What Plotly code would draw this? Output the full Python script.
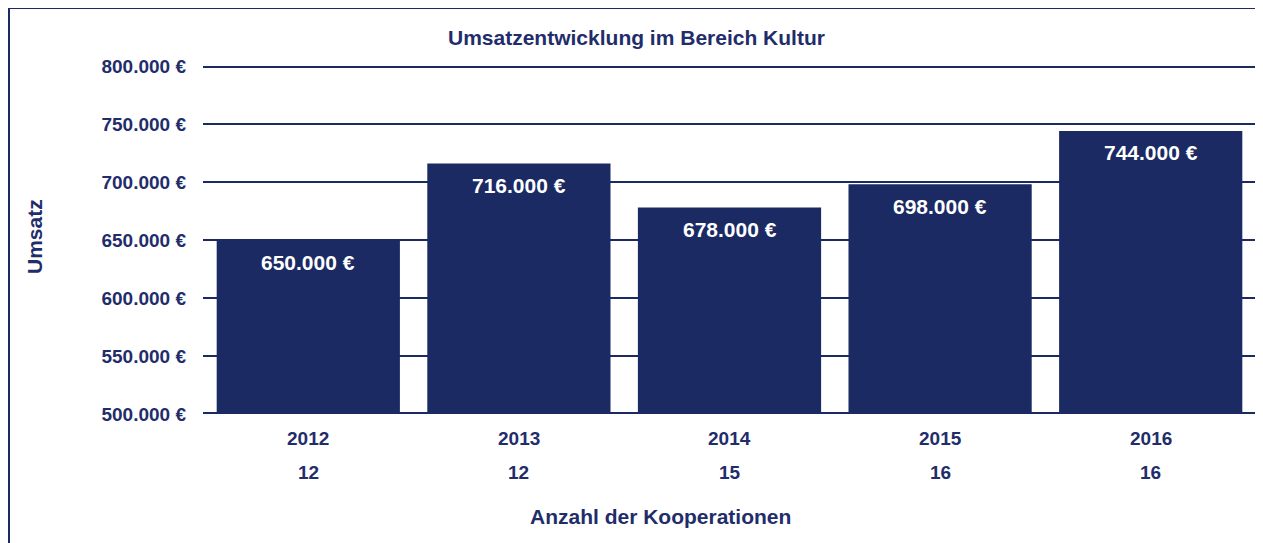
import plotly.graph_objects as go

years = ["2012", "2013", "2014", "2015", "2016"]
kooperationen = ["12", "12", "15", "16", "16"]
umsatz = [650000, 716000, 678000, 698000, 744000]
y_ticks = [500000, 550000, 600000, 650000, 700000, 750000, 800000]

NAVY = "#1B2A63"
TEXT = "#1F2D6B"
FONT = "Liberation Sans, Arial, sans-serif"

# page has an 8px body margin; figure coordinates are page - 8
W, H = 1255, 535
PL, PR, PT, PB = 195, 1248, 58, 406  # plot area edges in figure pixels
PW, PH = PR - PL, PB - PT


def fmt(v):
    return f"{v:,.0f}".replace(",", ".") + " €"


def px_x(xf):
    return (xf - PL) / PW


def px_y(yf):
    return (PB - yf) / PH


idx = list(range(len(years)))

fig = go.Figure()
fig.add_trace(go.Bar(
    x=idx, y=umsatz, marker=dict(color=NAVY, line=dict(width=0)),
    hoverinfo="skip",
))

annotations = []
for i, (yr, k, v) in enumerate(zip(years, kooperationen, umsatz)):
    annotations.append(dict(x=i, xref="x", y=0, yref="paper", yshift=-24, yanchor="middle",
                            text=f"<b>{yr}</b>", showarrow=False,
                            font=dict(size=19, color=TEXT, family=FONT)))
    annotations.append(dict(x=i, xref="x", y=0, yref="paper", yshift=-58, yanchor="middle",
                            text=f"<b>{k}</b>", showarrow=False,
                            font=dict(size=19, color=TEXT, family=FONT)))
    annotations.append(dict(x=i, xref="x", y=v, yref="y", yshift=-22, yanchor="middle",
                            text=f"<b>{fmt(v)}</b>", showarrow=False,
                            font=dict(size=21, color="white", family=FONT)))

annotations.append(dict(x=px_x(652), xref="paper", y=0, yref="paper", yshift=-102, yanchor="middle",
                        text="<b>Anzahl der Kooperationen</b>", showarrow=False,
                        font=dict(size=21, color=TEXT, family=FONT)))
annotations.append(dict(x=px_x(26), xref="paper", y=0.5, yref="paper", yshift=3, text="<b>Umsatz</b>",
                        showarrow=False, textangle=-90, xanchor="center", yanchor="middle",
                        font=dict(size=21, color=TEXT, family=FONT)))
annotations.append(dict(x=px_x(628), xref="paper", y=1, yref="paper", yshift=29,
                        text="<b>Umsatzentwicklung im Bereich Kultur</b>",
                        showarrow=False, xanchor="center", yanchor="middle",
                        font=dict(size=21, color=TEXT, family=FONT)))

shapes = [dict(type="rect", xref="paper", yref="paper",
               x0=px_x(1), x1=px_x(1253), y0=px_y(560), y1=px_y(0),
               line=dict(color=NAVY, width=2), fillcolor="rgba(0,0,0,0)", layer="above")]
# edge grid lines (plotly hides grid lines lying on the plot edges; half of these is clipped)
for yv in (y_ticks[0], y_ticks[-1]):
    shapes.append(dict(type="line", xref="paper", yref="y", x0=0, x1=1, y0=yv, y1=yv,
                       line=dict(color=NAVY, width=4), layer="below"))

fig.update_layout(
    width=W, height=H,
    margin=dict(l=PL, r=W - PR, t=PT, b=H - PB, pad=0),
    paper_bgcolor="white", plot_bgcolor="white",
    bargap=0.13, showlegend=False,
    font=dict(family=FONT, color=TEXT),
    xaxis=dict(range=[-0.5, 4.5], showticklabels=False, showgrid=False, zeroline=False,
               showline=False, ticks="", fixedrange=True),
    yaxis=dict(range=[500000, 800000], tickvals=y_ticks, ticktext=[f"<b>{fmt(v)}</b>" for v in y_ticks],
               showgrid=True, gridcolor=NAVY, gridwidth=2, zeroline=False, showline=False,
               ticks="", ticklabelstandoff=16, tickfont=dict(size=19, color=TEXT, family=FONT)),
    annotations=annotations,
    shapes=shapes,
)

fig.write_html("out.html")
